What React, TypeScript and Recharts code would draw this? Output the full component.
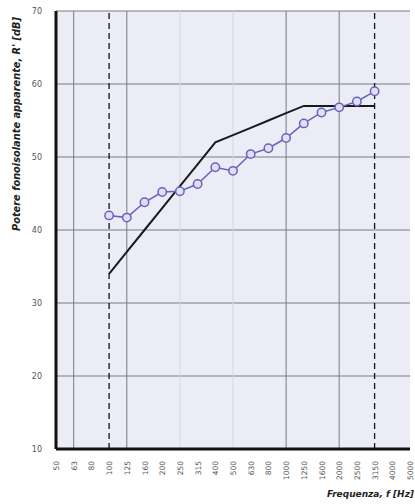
import React from 'react';
import { ComposedChart, Line, XAxis, YAxis, CartesianGrid, ReferenceLine, Label } from 'recharts';

const frequencies = ['50','63','80','100','125','160','200','250','315','400','500','630','800','1000','1250','1600','2000','2500','3150','4000','5000'];
const measured: (number | null)[] = [null,null,null,42.0,41.7,43.8,45.2,45.3,46.3,48.6,48.1,50.4,51.2,52.6,54.6,56.1,56.8,57.6,59.0,null,null];
const reference: (number | null)[] = [null,null,null,34,37,40,43,46,49,52,53,54,55,56,57,57,57,57,57,null,null];
const yTicks = [10,20,30,40,50,60,70];
const majorFreqLines = ['63','125','1000','2000'];
const minorFreqLines = ['250','500'];
const dashedFreqLines = ['100','3150'];

const data = frequencies.map((f, i) => ({ idx: i, f, measured: measured[i], reference: reference[i] }));
const idxOf = (f: string) => frequencies.indexOf(f);

const FONT = '"DejaVu Sans", Verdana, sans-serif';

const XTick = (props: any) => {
  const { x, y, payload } = props;
  return (
    <text x={x + 3} y={y} transform={`rotate(-90, ${x + 3}, ${y})`} textAnchor="end" fontSize={7.5} fill="#555" fontFamily={FONT}>
      {frequencies[payload.value]}
    </text>
  );
};

export default function App() {
  return (
    <div style={{ position: 'absolute', left: 0, top: 0, background: '#fff' }}>
      <ComposedChart width={415} height={504} data={data} margin={{ top: 11, right: 5, left: 0, bottom: 0 }}>
        <CartesianGrid vertical={false} horizontal fill="#ECECF6" stroke="#7a7a80" strokeWidth={1} />
        <XAxis
          type="number"
          dataKey="idx"
          domain={[0, 20]}
          ticks={frequencies.map((_, i) => i)}
          interval={0}
          height={55}
          tick={<XTick />}
          tickLine={false}
          axisLine={{ stroke: '#111', strokeWidth: 3 }}
          tickMargin={6}
        >
          <Label content={() => (
            <text x={414} y={497} textAnchor="end" fontSize={9} fontWeight="bold" fontStyle="italic" fill="#222" fontFamily={FONT}>Frequenza, f [Hz]</text>
          )} />
        </XAxis>
        <YAxis
          type="number"
          domain={[10, 70]}
          ticks={yTicks}
          interval={0}
          width={56}
          tickLine={false}
          axisLine={{ stroke: '#111', strokeWidth: 3 }}
          tick={{ fontSize: 8, fill: '#555', fontFamily: FONT }}
          tickMargin={8}
        >
          <Label content={() => (
            <text x={20} y={124} transform="rotate(-90, 20, 124)" textAnchor="middle" fontSize={9.8} fontWeight="bold" fontStyle="italic" fill="#222" fontFamily={FONT}>Potere fonoisolante apparente, R' [dB]</text>
          )} />
        </YAxis>
        {minorFreqLines.map(f => (
          <ReferenceLine key={f} x={idxOf(f)} stroke="#d6d6e2" strokeWidth={1} />
        ))}
        {majorFreqLines.map(f => (
          <ReferenceLine key={f} x={idxOf(f)} stroke="#7a7a80" strokeWidth={1} />
        ))}
        {dashedFreqLines.map(f => (
          <ReferenceLine key={f} x={idxOf(f)} stroke="#111" strokeWidth={1.3} strokeDasharray="6 4" />
        ))}
        <Line type="linear" dataKey="reference" stroke="#1a1a1a" strokeWidth={2} dot={false} isAnimationActive={false} connectNulls={false} />
        <Line type="linear" dataKey="measured" stroke="#6464c0" strokeWidth={1.5} dot={{ r: 4.2, stroke: '#6464c0', strokeWidth: 1.5, fill: '#e0e0f4' }} isAnimationActive={false} connectNulls={false} />
      </ComposedChart>
    </div>
  );
}
